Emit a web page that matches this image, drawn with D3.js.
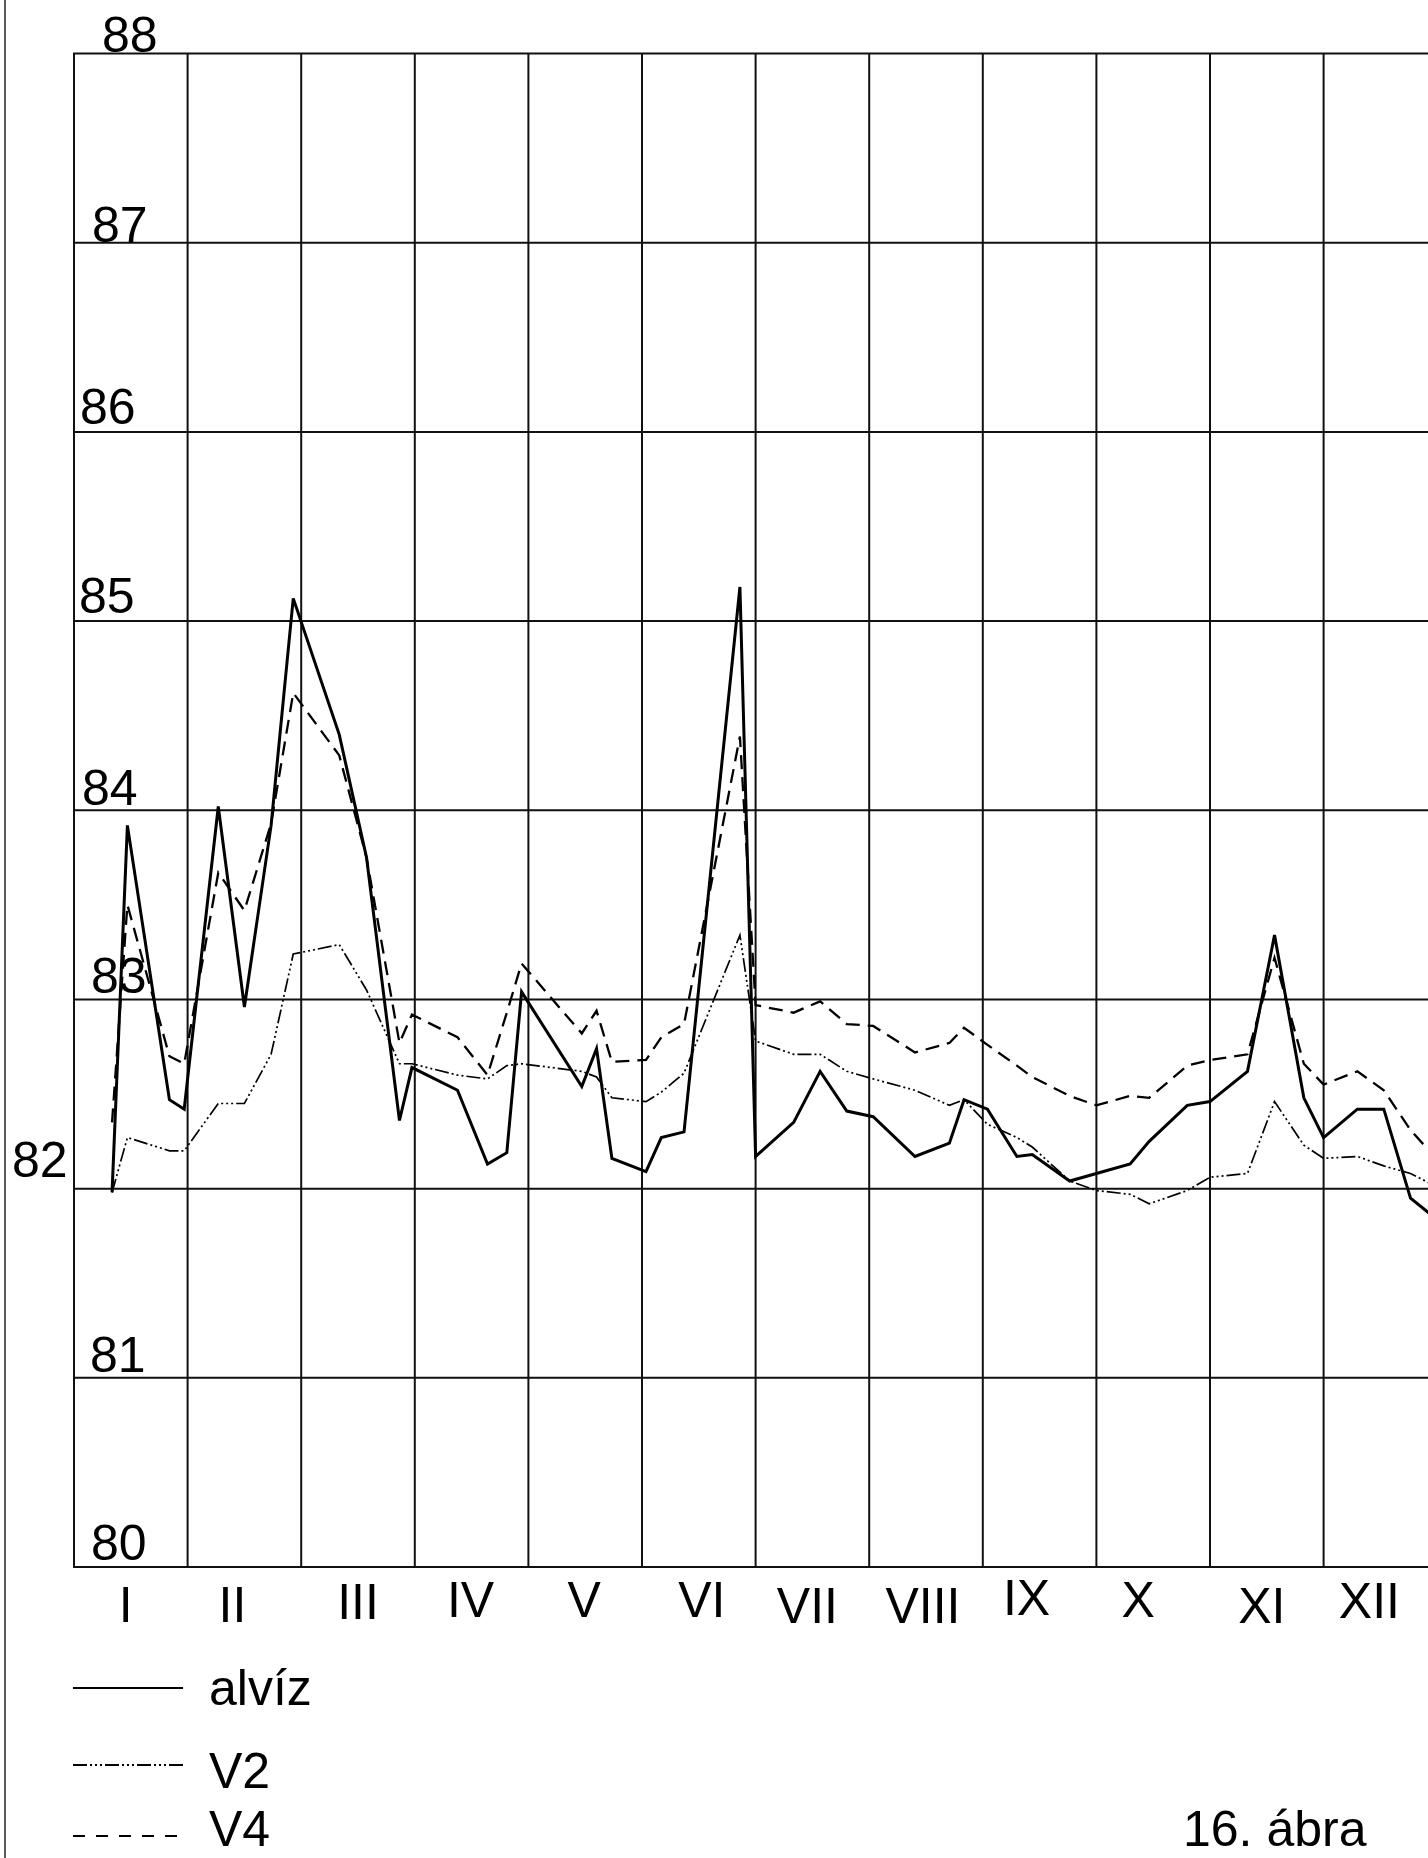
<!DOCTYPE html>
<html>
<head>
<meta charset="utf-8">
<title>16. ábra</title>
<script src="https://cdnjs.cloudflare.com/ajax/libs/d3/7.8.5/d3.min.js"></script>
<style>
    html, body { margin: 0; padding: 0; background: #fff; overflow: hidden; }
    #chart-area svg { display: block; }
    .lbl { font-family: "Liberation Sans", Arial, Helvetica, sans-serif; font-size: 50px; fill: #000; }
</style>
</head>
<body>
<div id="chart-area"></div>
<script>

// month names on the x axis
var months = ["I", "II", "III", "IV", "V", "VI", "VII", "VIII", "IX", "X", "XI", "XII"];

// water level ticks
var levels = [80, 81, 82, 83, 84, 85, 86, 87, 88];

// reading positions, in months from 1 January
var readings = [0.335, 0.47, 0.84, 0.97, 1.27, 1.50, 1.735, 1.93, 2.335, 2.575, 2.865, 2.975,
    3.376, 3.64, 3.81, 3.94, 4.47, 4.60, 4.735, 5.035, 5.17, 5.37, 5.862, 6.0,
    6.335, 6.568, 6.803, 7.035, 7.403, 7.706, 7.835, 8.041, 8.30, 8.435, 8.765, 9.0,
    9.297, 9.465, 9.80, 10.0, 10.33, 10.568, 10.826, 11.0, 11.297, 11.53, 11.765, 11.93];

var alviz = [81.98, 83.92, 82.47, 82.42, 84.02, 82.96, 83.92, 85.12, 84.40, 83.75, 82.36, 82.64,
    82.52, 82.13, 82.19, 83.04, 82.54, 82.74, 82.16, 82.09, 82.27, 82.30, 85.18, 82.17,
    82.35, 82.62, 82.41, 82.38, 82.17, 82.24, 82.47, 82.42, 82.17, 82.18, 82.04, 82.08,
    82.13, 82.25, 82.44, 82.46, 82.62, 83.34, 82.48, 82.27, 82.42, 82.42, 81.95, 81.87];

var v2 = [81.98, 82.27, 82.20, 82.20, 82.45, 82.45, 82.71, 83.24, 83.29, 83.05, 82.66, 82.66,
    82.60, 82.58, 82.65, 82.66, 82.62, 82.59, 82.48, 82.46, 82.51, 82.61, 83.34, 82.78,
    82.71, 82.71, 82.62, 82.58, 82.52, 82.44, 82.47, 82.34, 82.27, 82.22, 82.04, 81.99,
    81.97, 81.92, 81.99, 82.06, 82.08, 82.46, 82.23, 82.16, 82.17, 82.12, 82.08, 82.03];

var v4 = [82.35, 83.50, 82.70, 82.66, 83.67, 83.47, 83.93, 84.62, 84.29, 83.75, 82.77, 82.92,
    82.80, 82.60, 82.93, 83.19, 82.82, 82.94, 82.67, 82.68, 82.80, 82.87, 84.39, 82.97,
    82.93, 82.99, 82.87, 82.86, 82.72, 82.77, 82.85, 82.76, 82.65, 82.59, 82.49, 82.44,
    82.49, 82.48, 82.65, 82.68, 82.71, 83.22, 82.66, 82.55, 82.62, 82.52, 82.31, 82.20];

var seriesNames = ["alvíz", "V2", "V4"];


LevelChart = function(_parentElement){
    this.parentElement = _parentElement;
    this.displayData = [];

    this.initVis();
}


LevelChart.prototype.initVis = function(){
    var vis = this;

    vis.width = 1428;
    vis.height = 1858;
    vis.left = 74;
    vis.top = 53.5;
    vis.bottom = 1567;
    vis.monthWidth = 113.6;

    vis.svg = d3.select("#" + vis.parentElement).append("svg")
        .attr("width", vis.width)
        .attr("height", vis.height);

    vis.svg.append("rect")
        .attr("width", vis.width)
        .attr("height", vis.height)
        .attr("fill", "#fff");

    // Scales
    vis.x = d3.scaleLinear()
        .domain([0, 12])
        .range([vis.left, vis.left + 12 * vis.monthWidth]);

    vis.y = d3.scaleLinear()
        .domain([80, 88])
        .range([vis.bottom, vis.top]);

    // line styles per series
    vis.styles = {
        "alvíz": { width: 3, dash: null },
        "V2": { width: 1.7, dash: "14,3,2,3,2,3,2,3" },
        "V4": { width: 2.3, dash: "14,8" }
    };

    vis.line = d3.line()
        .x(function(d) { return vis.x(d.t); })
        .y(function(d) { return vis.y(d.v); });

    // frame line on the far left
    vis.svg.append("line")
        .attr("x1", 5).attr("x2", 5)
        .attr("y1", 0).attr("y2", vis.height)
        .attr("stroke", "#222")
        .attr("stroke-width", 1.5);

    vis.grid = vis.svg.append("g").attr("class", "grid");
    vis.plot = vis.svg.append("g").attr("class", "plot");
    vis.labels = vis.svg.append("g").attr("class", "labels");
    vis.legend = vis.svg.append("g").attr("class", "legend");

    vis.wrangleData();
}


LevelChart.prototype.wrangleData = function(){
    var vis = this;

    var cols = [alviz, v2, v4];
    vis.displayData = seriesNames.map(function(name, i){
        return {
            name: name,
            values: readings.map(function(t, j){ return { t: t, v: cols[i][j] }; })
        };
    });

    vis.updateVis();
}


LevelChart.prototype.updateVis = function(){
    var vis = this;

    // horizontal grid
    vis.grid.selectAll("line.h")
        .data(levels)
        .enter().append("line")
        .attr("class", "h")
        .attr("x1", vis.x(0) - 1)
        .attr("x2", vis.width)
        .attr("y1", function(d) { return vis.y(d); })
        .attr("y2", function(d) { return vis.y(d); })
        .attr("stroke", "#111")
        .attr("stroke-width", 2);

    // vertical month lines
    vis.grid.selectAll("line.v")
        .data(d3.range(0, 13))
        .enter().append("line")
        .attr("class", "v")
        .attr("x1", function(d) { return vis.x(d); })
        .attr("x2", function(d) { return vis.x(d); })
        .attr("y1", vis.y(88))
        .attr("y2", vis.y(80))
        .attr("stroke", "#111")
        .attr("stroke-width", 2);

    // level labels, placed by hand like the original drawing
    var levelX = { 80: 91, 81: 90, 82: 12, 83: 91, 84: 82, 85: 79, 86: 80, 87: 92, 88: 102 };
    var levelDy = { 80: -7, 81: -6, 82: -12, 83: -6, 84: -5, 85: -8, 86: -8, 87: -1, 88: -2 };

    vis.labels.selectAll("text.level")
        .data(levels)
        .enter().append("text")
        .attr("class", "level lbl")
        .attr("x", function(d) { return levelX[d]; })
        .attr("y", function(d) { return vis.y(d) + levelDy[d]; })
        .text(function(d) { return d; });

    // month labels
    var monthDx = [-5, -12, 0, -1, -1, 3, -5, -3, -13, -15, -5, -11];
    var monthBase = [1622, 1622, 1619, 1617, 1617, 1617, 1623, 1623, 1615, 1617, 1623, 1618];

    vis.labels.selectAll("text.month")
        .data(months)
        .enter().append("text")
        .attr("class", "month lbl")
        .attr("text-anchor", "middle")
        .attr("x", function(d, i) { return vis.x(i + 0.5) + monthDx[i]; })
        .attr("y", function(d, i) { return monthBase[i]; })
        .text(function(d) { return d; });

    // Draw the series
    var paths = vis.plot.selectAll(".series")
        .data(vis.displayData);

    paths.enter().append("path")
        .attr("class", "series")
        .merge(paths)
        .attr("fill", "none")
        .attr("stroke", "#000")
        .attr("stroke-width", function(d) { return vis.styles[d.name].width; })
        .attr("stroke-dasharray", function(d) { return vis.styles[d.name].dash; })
        .attr("d", function(d) { return vis.line(d.values); });

    paths.exit().remove();

    // Legend
    var legendY = [1688, 1765, 1836];
    var legendBase = [1705, 1788, 1846];

    var items = vis.legend.selectAll("g.item")
        .data(seriesNames)
        .enter().append("g")
        .attr("class", "item");

    items.append("line")
        .attr("x1", 73).attr("x2", 183)
        .attr("y1", function(d, i) { return legendY[i]; })
        .attr("y2", function(d, i) { return legendY[i]; })
        .attr("stroke", "#000")
        .attr("stroke-width", function(d) { return d === "alvíz" ? 2.2 : 1.8; })
        .attr("stroke-dasharray", function(d) { return d === "V4" ? "12,11" : vis.styles[d].dash; });

    items.append("text")
        .attr("class", "lbl")
        .attr("x", 209)
        .attr("y", function(d, i) { return legendBase[i]; })
        .text(function(d) { return d; });

    vis.svg.append("text")
        .attr("class", "lbl")
        .attr("x", 1183)
        .attr("y", 1846)
        .text("16. ábra");
}


var chart = new LevelChart("chart-area");

</script>
</body>
</html>
